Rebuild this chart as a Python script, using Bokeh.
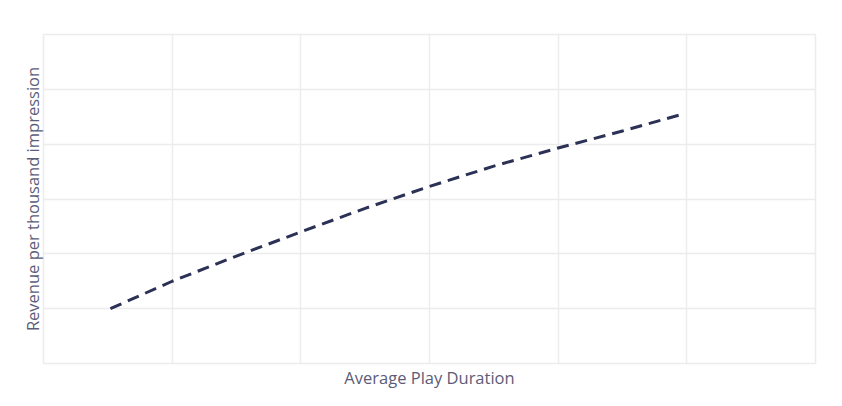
from bokeh.plotting import figure
from bokeh.models import Range1d, FixedTicker, Title
from bokeh.embed import file_html
from bokeh.resources import INLINE

# Data (arbitrary units, no tick labels shown)
play_duration = [0.52, 1.0, 1.5, 2.0, 2.5, 3.0, 3.5, 4.0, 4.5, 4.94]
revenue_per_mille = [1.0, 1.50, 1.96, 2.40, 2.83, 3.23, 3.60, 3.93, 4.24, 4.53]
grid_ticks = [0, 1, 2, 3, 4, 5, 6]

x_label = "Average Play Duration"
y_label = "Revenue per thousand impression"

p = figure(width=834, height=398, output_backend="svg", toolbar_location=None,
           x_range=Range1d(0, 6), y_range=Range1d(0, 6),
           min_border_left=43, min_border_right=19, min_border_top=34, min_border_bottom=35)

p.line(play_duration, revenue_per_mille, line_color="#2c3156", line_width=3,
       line_dash="12 7", line_cap="butt", line_join="round")

p.xaxis.visible = False
p.yaxis.visible = False
p.xgrid.ticker = FixedTicker(ticks=grid_ticks)
p.ygrid.ticker = FixedTicker(ticks=grid_ticks)

label_color = "#5c5c78"
xt = Title(text=x_label, align="center", text_font="Open Sans", text_font_size="16.5px",
           text_font_style="normal", text_color=label_color, standoff=0, offset=0)
yt = Title(text=y_label, align="center", text_font="Open Sans", text_font_size="16.5px",
           text_font_style="normal", text_color=label_color, standoff=0, offset=0)
p.add_layout(xt, "below")
p.add_layout(yt, "left")

grid_color = "#ececec"
p.xgrid.grid_line_color = grid_color
p.ygrid.grid_line_color = grid_color
p.xgrid.grid_line_width = 1.5
p.ygrid.grid_line_width = 1.5
p.outline_line_color = grid_color
p.outline_line_width = 1.5
p.background_fill_color = "white"
p.border_fill_color = "white"

open("out.html", "w").write(file_html(p, INLINE))
